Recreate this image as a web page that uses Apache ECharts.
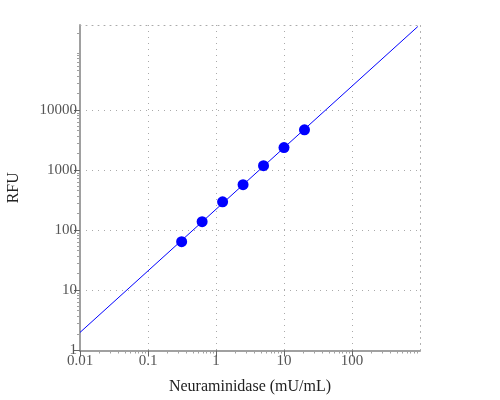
<!DOCTYPE html>
<html>
<head>
<meta charset="utf-8">
<script src="https://cdn.jsdelivr.net/npm/echarts@6/dist/echarts.min.js"></script>
<style>
  html, body { margin: 0; padding: 0; background: #fff; }
  #chart { width: 500px; height: 400px; }
</style>
</head>
<body>
<div id="chart"></div>
<script>
// standards (mU/mL) and measured RFU
var concentration = [0.3125, 0.625, 1.25, 2.5, 5, 10, 20];
var rfu = [65, 140, 300, 580, 1200, 2400, 4750];
// fitted line, read at both ends of the plot
var fitX = [0.01, 930];
var fitY = [2, 250000];
// tick labels
var xTicks = [0.01, 0.1, 1, 10, 100];
var yTicks = [1, 10, 100, 1000, 10000];
var xRange = [0.01, 1000];
var yRange = [1, 265000];

var font = '"Liberation Serif", "DejaVu Serif", serif';
var axisGray = '#a0a0a0';

var chart = echarts.init(document.getElementById('chart'));

function mainAxis(range, ticks, name, gap) {
  return {
    type: 'log',
    logBase: 10,
    min: range[0],
    max: range[1],
    name: name,
    nameLocation: 'middle',
    nameGap: gap,
    nameTextStyle: { fontFamily: font, fontSize: 16, color: '#222' },
    axisLine: { show: true, lineStyle: { color: axisGray, width: 2 } },
    axisTick: { show: true, length: 6, customValues: ticks, lineStyle: { color: '#666' } },
    minorTick: { show: true, splitNumber: 10, length: 3, lineStyle: { color: axisGray } },
    axisLabel: {
      customValues: ticks,
      margin: 3,
      fontFamily: font, fontSize: 15, color: '#555',
      formatter: function (v) { return String(v); }
    },
    splitLine: { show: true, lineStyle: { color: '#aaa', type: [1, 5], width: 1 } }
  };
}

function borderAxis(range, pos) {
  return {
    type: 'log',
    min: range[0],
    max: range[1],
    position: pos,
    axisLine: { show: true, lineStyle: { color: '#aaa', type: [1, 5], width: 1 } },
    axisTick: { show: false },
    axisLabel: { show: false },
    splitLine: { show: false }
  };
}

var option = {
  animation: false,
  grid: { left: 80, right: 80, top: 25, bottom: 49.5, containLabel: false, outerBoundsMode: 'none' },
  xAxis: [
    mainAxis(xRange, xTicks, 'Neuraminidase (mU/mL)', 28),
    borderAxis(xRange, 'top')
  ],
  yAxis: [
    mainAxis(yRange, yTicks, 'RFU', 58),
    borderAxis(yRange, 'right')
  ],
  series: [
    {
      type: 'line',
      data: fitX.map(function (x, i) { return [x, fitY[i]]; }),
      showSymbol: false,
      symbol: 'none',
      lineStyle: { color: '#0000ff', width: 1 },
      clip: true
    },
    {
      type: 'scatter',
      data: concentration.map(function (x, i) { return [x, rfu[i]]; }),
      symbolSize: 11,
      itemStyle: { color: '#0000ff', opacity: 1 }
    }
  ]
};
chart.setOption(option);
</script>
</body>
</html>
